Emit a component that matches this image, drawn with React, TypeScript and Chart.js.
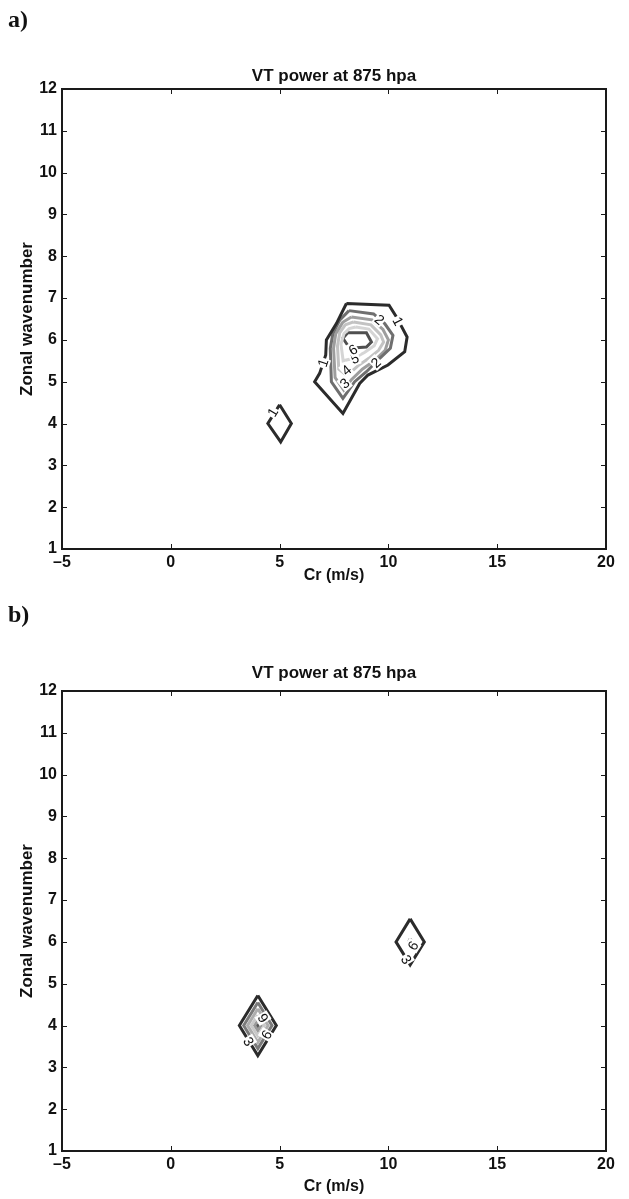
import React, { useEffect, useRef } from "react";
import { Chart, registerables } from "chart.js";
Chart.register(...registerables);

const FONT = "'Liberation Sans', Arial, Helvetica, sans-serif";

// ---- text ----
const TITLE_TEXT = "VT power at 875 hpa";
const X_LABEL = "Cr (m/s)";
const Y_LABEL = "Zonal wavenumber";
const PANEL_A_TAG = "a)";
const PANEL_B_TAG = "b)";

// ---- axes ----
const X_MIN = -5;
const X_MAX = 20;
const X_STEP = 5;
const Y_MIN = 1;
const Y_MAX = 12;
const Y_STEP = 1;

// ---- panel a contours (Cr, wavenumber) ----
const a1Main = [[8.07, 6.87], [10.03, 6.83], [10.37, 6.55], [10.86, 6.07], [10.75, 5.72], [9.98, 5.40], [9.06, 5.16], [8.68, 4.96], [7.91, 4.24], [6.61, 5.0], [6.84, 5.2], [7.12, 5.64], [7.15, 6.0], [7.61, 6.39]];
const a1Small = [[5.0, 4.45], [5.54, 4.0], [5.05, 3.56], [4.46, 4.0]];
const a2 = [[8.19, 6.70], [9.32, 6.62], [9.83, 6.39], [10.21, 6.11], [10.09, 5.80], [9.6, 5.56], [8.99, 5.24], [8.45, 5.0], [7.91, 4.60], [7.38, 5.0], [7.33, 5.80], [7.45, 6.16], [7.76, 6.47]];
const a3 = [[8.3, 6.55], [9.25, 6.48], [9.75, 6.25], [10.0, 6.0], [9.85, 5.75], [9.35, 5.5], [8.8, 5.3], [8.3, 5.05], [7.95, 4.8], [7.55, 5.1], [7.48, 5.8], [7.58, 6.15], [7.9, 6.42]];
const a4 = [[8.4, 6.43], [9.2, 6.36], [9.65, 6.12], [9.78, 5.95], [9.55, 5.75], [9.1, 5.56], [8.6, 5.38], [8.1, 5.15], [7.72, 5.3], [7.66, 5.85], [7.76, 6.17], [8.02, 6.36]];
const a5 = [[8.5, 6.31], [9.1, 6.26], [9.5, 6.03], [9.35, 5.86], [8.9, 5.7], [8.4, 5.56], [7.92, 5.5], [7.82, 5.9], [7.96, 6.15], [8.2, 6.27]];
const a6 = [[8.13, 6.17], [8.99, 6.17], [9.22, 5.95], [8.99, 5.83], [8.22, 5.8], [7.91, 6.04]];

const aLabelText = ["1", "1", "2", "2", "3", "4", "5", "6", "1"];
const aLabelX = [6.99, 10.45, 9.6, 9.42, 7.99, 8.07, 8.45, 8.37, 4.68];
const aLabelY = [5.45, 6.45, 6.49, 5.46, 4.96, 5.28, 5.56, 5.77, 4.27];
const aLabelAngle = [-72, 62, 40, -43, -40, -40, -20, -30, -59];

// ---- panel b contours ----
const b3Left = [[4.0, 4.72], [4.85, 4.0], [4.0, 3.28], [3.15, 4.0]];
const b6Left = [[4.0, 4.55], [4.65, 4.0], [4.0, 3.45], [3.35, 4.0]];
const b9Left = [[4.0, 4.4], [4.47, 4.0], [4.0, 3.6], [3.53, 4.0]];
const b12Left = [[4.0, 4.25], [4.3, 4.0], [4.0, 3.75], [3.7, 4.0]];
const b15Left = [[4.0, 4.12], [4.15, 4.0], [4.0, 3.88], [3.85, 4.0]];
const b18Left = [[4.0, 4.04], [4.05, 4.0], [4.0, 3.96], [3.95, 4.0]];
const b3Right = [[11.0, 6.55], [11.65, 6.0], [11.0, 5.45], [10.35, 6.0]];
const b15Right = [[11.0, 6.08], [11.05, 6.02], [11.0, 5.96], [10.95, 6.02]];

const bLabelText = ["3", "6", "9", "3", "6"];
const bLabelX = [3.58, 4.39, 4.24, 10.83, 11.13];
const bLabelY = [3.62, 3.78, 4.18, 5.58, 5.91];
const bLabelAngle = [58, -58, 58, 58, -58];

// ---- styling (not data) ----
const aColors: Record<number, string> = { 1: "#2b2b2b", 2: "#6f6f6f", 3: "#9d9d9d", 4: "#c3c3c3", 5: "#d5d5d5", 6: "#4f4f4f" };
const bColors: Record<number, string> = { 3: "#2b2b2b", 6: "#7a7a7a", 9: "#adadad", 12: "#c9c9c9", 15: "#9a9a9a", 18: "#555555" };

const panelAContours = [
  { level: 1, pts: a1Main },
  { level: 1, pts: a1Small },
  { level: 2, pts: a2 },
  { level: 3, pts: a3 },
  { level: 4, pts: a4 },
  { level: 5, pts: a5 },
  { level: 6, pts: a6 },
];
const panelBContours = [
  { level: 3, pts: b3Left },
  { level: 6, pts: b6Left },
  { level: 9, pts: b9Left },
  { level: 12, pts: b12Left },
  { level: 15, pts: b15Left },
  { level: 18, pts: b18Left },
  { level: 3, pts: b3Right },
  { level: 15, pts: b15Right },
];

function buildLabels(text: string[], xs: number[], ys: number[], ang: number[]) {
  return text.map((t, i) => ({ text: t, x: xs[i], y: ys[i], rot: ang[i] }));
}

const contourLabelPlugin = {
  id: "contourLabels",
  afterDatasetsDraw(chart: any, _args: any, opts: any) {
    const items = (opts && opts.items) || [];
    const { ctx, scales } = chart;
    ctx.save();
    ctx.font = `14px ${FONT}`;
    ctx.textAlign = "center";
    ctx.textBaseline = "middle";
    for (const it of items) {
      const px = scales.x.getPixelForValue(it.x);
      const py = scales.y.getPixelForValue(it.y);
      ctx.save();
      ctx.translate(px, py);
      ctx.rotate((it.rot * Math.PI) / 180);
      const w = ctx.measureText(it.text).width;
      ctx.fillStyle = "#ffffff";
      ctx.fillRect(-w / 2 - 1, -7, w + 2, 14);
      ctx.fillStyle = "#111111";
      ctx.fillText(it.text, 0, 1);
      ctx.restore();
    }
    ctx.restore();
  },
};

const framePlugin = {
  id: "matlabFrame",
  afterDraw(chart: any) {
    const { ctx, chartArea, scales } = chart;
    const { left, right, top, bottom } = chartArea;
    ctx.save();
    ctx.strokeStyle = "#1a1a1a";
    ctx.lineWidth = 1;
    const tl = 5;
    ctx.beginPath();
    for (const t of scales.x.ticks) {
      const px = Math.round(scales.x.getPixelForValue(t.value)) + 0.5;
      ctx.moveTo(px, bottom);
      ctx.lineTo(px, bottom - tl);
      ctx.moveTo(px, top);
      ctx.lineTo(px, top + tl);
    }
    for (const t of scales.y.ticks) {
      const py = Math.round(scales.y.getPixelForValue(t.value)) + 0.5;
      ctx.moveTo(left, py);
      ctx.lineTo(left + tl, py);
      ctx.moveTo(right, py);
      ctx.lineTo(right - tl, py);
    }
    ctx.stroke();
    ctx.lineWidth = 2;
    ctx.strokeRect(left, top, right - left, bottom - top);
    ctx.restore();
  },
};

function tickText(v: any) {
  const n = Number(v);
  return n < 0 ? "\u2013" + Math.abs(n) : String(n);
}

type PanelProps = {
  top: number;
  height: number;
  titlePadTop: number;
  xTitlePadBottom: number;
  tagTop: number;
  contours: any[];
  colors: Record<number, string>;
  labels: any[];
  tag: string;
};

function Panel(props: PanelProps) {
  const ref = useRef<HTMLCanvasElement | null>(null);
  const { top, height, titlePadTop, xTitlePadBottom, tagTop, contours, colors, labels, tag } = props;
  useEffect(() => {
    if (!ref.current) return;
    const plotTop = 89;
    const plotBottom = 549;
    const xAxisH = height - plotBottom;
    const titleLH = 17 * 1.2;
    const datasets = contours.map((c) => ({
      data: [...c.pts, c.pts[0]].map((p: number[]) => ({ x: p[0], y: p[1] })),
      showLine: true,
      borderColor: colors[c.level],
      backgroundColor: colors[c.level],
      borderWidth: 3,
      pointRadius: 0,
      tension: 0,
      fill: false,
      borderJoinStyle: "miter" as const,
    }));
    const chart = new Chart(ref.current, {
      type: "scatter",
      data: { datasets },
      plugins: [contourLabelPlugin, framePlugin],
      options: {
        animation: false,
        responsive: false,
        devicePixelRatio: 1,
        layout: { padding: { top: 0, right: 23, bottom: 0, left: 0 } },
        plugins: {
          legend: { display: false },
          tooltip: { enabled: false },
          title: {
            display: true,
            fullSize: false,
            text: TITLE_TEXT,
            color: "#111",
            font: { family: FONT, size: 17, weight: "bold" },
            padding: { top: titlePadTop, bottom: plotTop - titlePadTop - titleLH },
          },
          contourLabels: { items: labels },
        } as any,
        scales: {
          x: {
            type: "linear",
            min: X_MIN,
            max: X_MAX,
            ticks: { stepSize: X_STEP, color: "#111", padding: 4, font: { family: FONT, size: 16, weight: "bold" }, callback: tickText },
            grid: { display: false, drawTicks: false },
            border: { display: false },
            title: { display: true, text: X_LABEL, color: "#111", font: { family: FONT, size: 16, weight: "bold" }, padding: { top: 0, bottom: xTitlePadBottom } },
            afterFit: (s: any) => { s.height = xAxisH; },
          },
          y: {
            type: "linear",
            min: Y_MIN,
            max: Y_MAX,
            ticks: { stepSize: Y_STEP, color: "#111", padding: 5, font: { family: FONT, size: 16, weight: "bold" }, callback: tickText },
            grid: { display: false, drawTicks: false },
            border: { display: false },
            title: { display: true, text: Y_LABEL, color: "#111", font: { family: FONT, size: 17, weight: "bold" }, padding: { top: 17, bottom: 0 } },
            afterFit: (s: any) => { s.width = 62; },
          },
        },
      } as any,
    });
    return () => chart.destroy();
  }, []);
  return (
    <div style={{ position: "absolute", left: 0, top, width: 629, height }}>
      <canvas ref={ref} width={629} height={height} style={{ display: "block" }} />
      <div style={{ position: "absolute", left: 8, top: tagTop, fontFamily: "'Liberation Serif', 'Times New Roman', serif", fontWeight: "bold", fontSize: 24, lineHeight: "28px", color: "#111" }}>{tag}</div>
    </div>
  );
}

export default function App() {
  const la = buildLabels(aLabelText, aLabelX, aLabelY, aLabelAngle);
  const lb = buildLabels(bLabelText, bLabelX, bLabelY, bLabelAngle);
  return (
    <div style={{ position: "absolute", left: 0, top: 0, width: 629, height: 1199, overflow: "hidden", background: "#fff" }}>
      <Panel top={0} height={600} titlePadTop={66.4} xTitlePadBottom={15} tagTop={5} contours={panelAContours} colors={aColors} labels={la} tag={PANEL_A_TAG} />
      <Panel top={602} height={597} titlePadTop={61} xTitlePadBottom={3} tagTop={-2} contours={panelBContours} colors={bColors} labels={lb} tag={PANEL_B_TAG} />
    </div>
  );
}
